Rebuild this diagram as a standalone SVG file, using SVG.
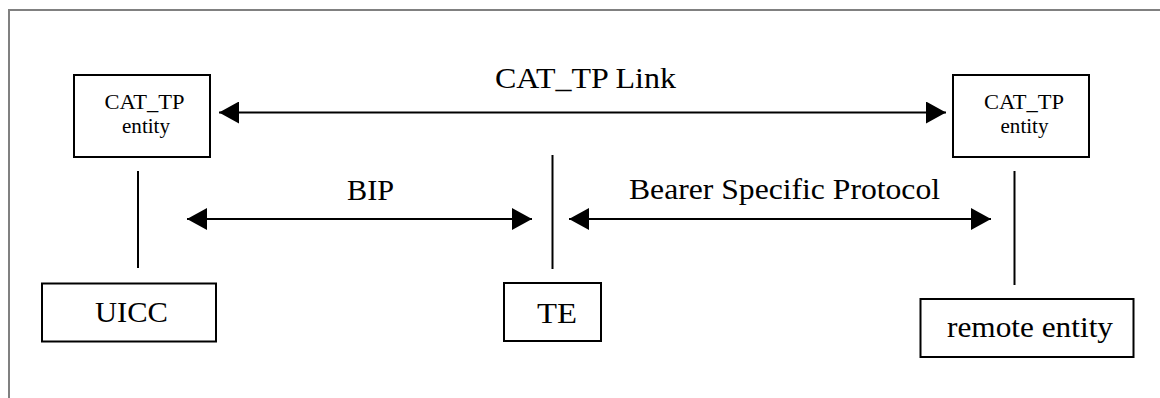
<svg xmlns="http://www.w3.org/2000/svg" width="1160" height="398" viewBox="0 0 1160 398">
  <defs>
    <style>
      .box { fill: #ffffff; stroke: #000000; stroke-width: 2; }
      .line { fill: none; stroke: #000000; stroke-width: 2; }
      .big { font-family: "Liberation Serif", "Times New Roman", serif; font-size: 30px; fill: #000000; }
      .small { font-family: "Liberation Serif", "Times New Roman", serif; font-size: 20px; fill: #000000; text-anchor: middle; }
      .frame { fill: none; stroke: #808080; stroke-width: 2; }
    </style>
    <marker id="ah" viewBox="0 0 20 22" refX="20" refY="11" markerWidth="20" markerHeight="22" markerUnits="userSpaceOnUse" orient="auto-start-reverse">
      <path d="M0,0 L20,11 L0,22 Z" fill="#000000"/>
    </marker>
  </defs>
  <rect width="1160" height="398" fill="#ffffff"/>
  <path class="frame" d="M9,398 V10 H1160"/>

  <g id="connectors">
    <line class="line" x1="219" y1="112.5" x2="946" y2="112.5" marker-start="url(#ah)" marker-end="url(#ah)"/>
    <line class="line" x1="187" y1="219" x2="532" y2="219" marker-start="url(#ah)" marker-end="url(#ah)"/>
    <line class="line" x1="569" y1="219" x2="991" y2="219" marker-start="url(#ah)" marker-end="url(#ah)"/>
    <line class="line" x1="138" y1="171" x2="138" y2="268"/>
    <line class="line" x1="552.5" y1="155" x2="552.5" y2="269"/>
    <line class="line" x1="1014.5" y1="171" x2="1014.5" y2="285"/>
    <text class="big" x="495" y="88" textLength="181" lengthAdjust="spacingAndGlyphs">CAT_TP Link</text>
    <text class="big" x="347" y="200" textLength="47" lengthAdjust="spacingAndGlyphs">BIP</text>
    <text class="big" x="629" y="199" textLength="311" lengthAdjust="spacingAndGlyphs">Bearer Specific Protocol</text>
  </g>

  <g id="cattp-left">
    <rect class="box" x="74" y="75" width="136" height="82"/>
    <text class="small" x="144.5" y="109" textLength="80" lengthAdjust="spacingAndGlyphs">CAT_TP</text>
    <text class="small" x="146" y="133" textLength="48" lengthAdjust="spacingAndGlyphs">entity</text>
  </g>

  <g id="cattp-right">
    <rect class="box" x="953" y="75" width="136" height="82"/>
    <text class="small" x="1024" y="109" textLength="80" lengthAdjust="spacingAndGlyphs">CAT_TP</text>
    <text class="small" x="1024.5" y="133" textLength="48" lengthAdjust="spacingAndGlyphs">entity</text>
  </g>

  <g id="uicc">
    <rect class="box" x="42" y="283.5" width="174" height="58"/>
    <text class="big" x="95" y="321.5" textLength="73" lengthAdjust="spacingAndGlyphs">UICC</text>
  </g>

  <g id="te">
    <rect class="box" x="504" y="283" width="97" height="58"/>
    <text class="big" x="537" y="322.5" textLength="40" lengthAdjust="spacingAndGlyphs">TE</text>
  </g>

  <g id="remote-entity">
    <rect class="box" x="920.5" y="299" width="213" height="58"/>
    <text class="big" x="947" y="337" textLength="166" lengthAdjust="spacingAndGlyphs">remote entity</text>
  </g>
</svg>
